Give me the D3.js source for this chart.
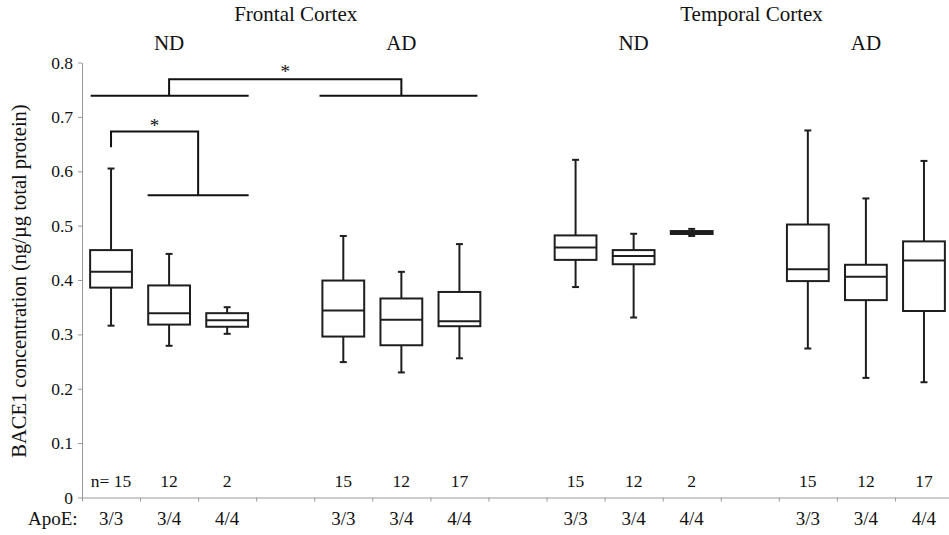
<!DOCTYPE html>
<html>
<head>
<meta charset="utf-8">
<script src="https://cdn.jsdelivr.net/npm/d3@7"></script>
<style>
  html, body { margin: 0; padding: 0; background: #fff; }
  svg { display: block; }
  svg text { font-family: "Liberation Serif", "Tinos", "Times New Roman", "Times", "DejaVu Serif", "Noto Serif", "Nimbus Roman", serif !important; fill: #111; }
</style>
</head>
<body>
<svg id="chart" width="949" height="535"></svg>
<script>
// ---------- data ----------
const slotCount = 15;                       // 4 panels of 3 genotypes, separated by empty slots
const boxSlots   = [0, 1, 2, 4, 5, 6, 8, 9, 10, 12, 13, 14];
const genotypes  = ["3/3", "3/4", "4/4", "3/3", "3/4", "4/4", "3/3", "3/4", "4/4", "3/3", "3/4", "4/4"];
const nCounts    = ["n= 15", "12", "2", "15", "12", "17", "15", "12", "2", "15", "12", "17"];
const whiskerMax = [0.605, 0.448, 0.350, 0.481, 0.415, 0.466, 0.621, 0.485, 0.494, 0.675, 0.550, 0.619];
const q3         = [0.455, 0.390, 0.339, 0.399, 0.366, 0.378, 0.482, 0.455, 0.490, 0.502, 0.428, 0.471];
const medians    = [0.415, 0.339, 0.326, 0.344, 0.327, 0.324, 0.460, 0.444, 0.487, 0.420, 0.406, 0.436];
const q1         = [0.386, 0.318, 0.314, 0.296, 0.280, 0.315, 0.437, 0.429, 0.4846, 0.398, 0.363, 0.343];
const whiskerMin = [0.316, 0.279, 0.301, 0.249, 0.230, 0.256, 0.387, 0.331, 0.481, 0.274, 0.220, 0.212];

const yTicks = [0, 0.1, 0.2, 0.3, 0.4, 0.5, 0.6, 0.7, 0.8];

const groupLabels = ["ND", "AD", "ND", "AD"];
const groupSlots  = [1, 5, 9, 13];
const regionLabels = ["Frontal Cortex", "Temporal Cortex"];
const regionSlots  = [3.18, 11.03];

// significance brackets (x in slot units, y in data units)
const bracketLines = [
  [[-0.35, 0.739], [2.37, 0.739]],
  [[3.59, 0.739], [6.31, 0.739]],
  [[1, 0.739], [1, 0.769], [5, 0.769], [5, 0.739]],
  [[0, 0.644], [0, 0.673], [1.5, 0.673], [1.5, 0.556]],
  [[0.63, 0.556], [2.37, 0.556]]
];
const starSlots  = [3.0, 0.75];
const starValues = [0.772, 0.672];

// ---------- scales ----------
const svg = d3.select("#chart");
const x0 = 82, x1 = 953;
const slotKeys = d3.range(slotCount);
const x = d3.scaleBand().domain(slotKeys).range([x0, x1]).padding(0);
const xEdge = d3.scaleLinear().domain([0, slotCount]).range([x0, x1]);
const xc = i => xEdge(i + 0.5);
const y = d3.scaleLinear().domain([0, 0.8]).range([497.5, 62.5]);

const axisColor = "#9a9a9a";
const ink = "#1e1e1e";

// ---------- y axis ----------
const yAxis = svg.append("g")
  .attr("transform", `translate(${x0},0)`)
  .call(d3.axisLeft(y).tickValues(yTicks).tickSize(4).tickSizeOuter(0).tickPadding(5)
    .tickFormat(d => d === 0 ? "0" : d3.format(".1f")(d)));
yAxis.attr("font-family", null);
yAxis.select(".domain").attr("stroke", axisColor);
yAxis.selectAll(".tick line").attr("stroke", axisColor);
yAxis.selectAll(".tick text").style("font-size", "17.5px").attr("fill", "#111");

// ---------- x axis (ticks at slot boundaries) ----------
const xAxis = svg.append("g")
  .attr("transform", `translate(0,${y(0)})`)
  .call(d3.axisBottom(xEdge).tickValues(d3.range(0, slotCount + 1)).tickSize(4).tickSizeOuter(0).tickFormat(""));
xAxis.select(".domain").attr("stroke", axisColor);
xAxis.selectAll(".tick line").attr("stroke", axisColor);

// category labels
svg.append("text").attr("x", 28).attr("y", 525).style("font-size", "19px").text("ApoE:");
svg.selectAll(".cat").data(boxSlots).enter().append("text")
  .attr("class", "cat")
  .attr("x", (s) => x(s) + x.bandwidth() / 2)
  .attr("y", 525)
  .attr("text-anchor", "middle")
  .style("font-size", "19px")
  .text((s, i) => genotypes[i]);

// n counts
svg.selectAll(".ncount").data(boxSlots).enter().append("text")
  .attr("class", "ncount")
  .attr("x", (s) => x(s) + x.bandwidth() / 2)
  .attr("y", 487)
  .attr("text-anchor", "middle")
  .style("font-size", "17.5px")
  .text((s, i) => nCounts[i]);

// y label
svg.append("text")
  .attr("transform", `translate(26,${(y(0.8) + y(0)) / 2 + 1}) rotate(-90)`)
  .attr("text-anchor", "middle")
  .style("font-size", "20.5px")
  .text("BACE1 concentration (ng/µg total protein)");

// region & group labels
svg.selectAll(".region").data(regionLabels).enter().append("text")
  .attr("x", (d, i) => xc(regionSlots[i]))
  .attr("y", 21)
  .attr("text-anchor", "middle")
  .style("font-size", "21px")
  .text(d => d);
svg.selectAll(".grp").data(groupLabels).enter().append("text")
  .attr("x", (d, i) => xc(groupSlots[i]))
  .attr("y", 50)
  .attr("text-anchor", "middle")
  .style("font-size", "21px")
  .text(d => d);

// ---------- boxes ----------
const boxW = x.bandwidth() * 0.72;
const capW = x.bandwidth() * 0.12;
const boxes = svg.append("g");
boxSlots.forEach((s, i) => {
  const cx = x(s) + x.bandwidth() / 2;
  const g = boxes.append("g").attr("stroke", ink).attr("stroke-width", 2).attr("fill", "none");
  g.append("line").attr("x1", cx).attr("x2", cx).attr("y1", y(whiskerMax[i])).attr("y2", y(q3[i]));
  g.append("line").attr("x1", cx).attr("x2", cx).attr("y1", y(q1[i])).attr("y2", y(whiskerMin[i]));
  g.append("line").attr("x1", cx - capW / 2).attr("x2", cx + capW / 2).attr("y1", y(whiskerMax[i])).attr("y2", y(whiskerMax[i]));
  g.append("line").attr("x1", cx - capW / 2).attr("x2", cx + capW / 2).attr("y1", y(whiskerMin[i])).attr("y2", y(whiskerMin[i]));
  g.append("rect").attr("x", cx - boxW / 2).attr("width", boxW)
    .attr("y", y(q3[i])).attr("height", Math.max(0.5, y(q1[i]) - y(q3[i])))
    .attr("fill", "#fff");
  g.append("line").attr("x1", cx - boxW / 2).attr("x2", cx + boxW / 2).attr("y1", y(medians[i])).attr("y2", y(medians[i]));
});

// ---------- significance brackets ----------
const line = d3.line().x(d => xc(d[0])).y(d => y(d[1]));
svg.append("g").selectAll("path").data(bracketLines).enter().append("path")
  .attr("d", line).attr("fill", "none").attr("stroke", "#111").attr("stroke-width", 2);
svg.selectAll(".star").data(starSlots).enter().append("text")
  .attr("x", (d) => xc(d))
  .attr("y", (d, i) => y(starValues[i]))
  .attr("text-anchor", "middle")
  .style("font-size", "19px")
  .text("*");
</script>
</body>
</html>
